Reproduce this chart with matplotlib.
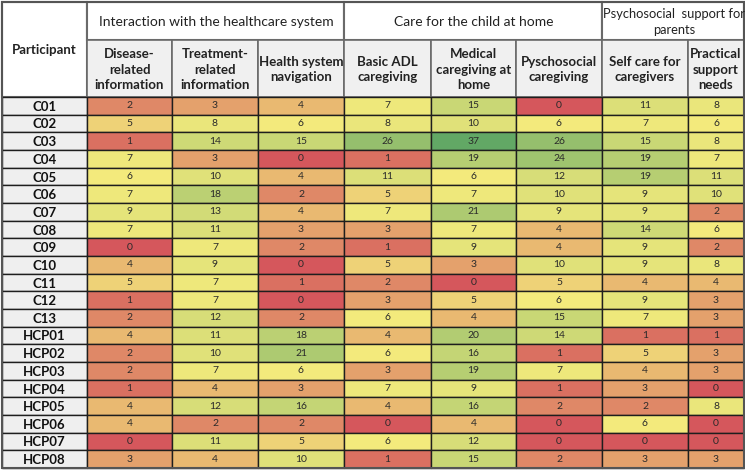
import numpy as np
import matplotlib.pyplot as plt
from matplotlib.patches import Rectangle
from matplotlib.colors import to_rgb

plt.rcParams['font.family'] = ['Lato', 'DejaVu Sans']

participants = ['C01', 'C02', 'C03', 'C04', 'C05', 'C06', 'C07', 'C08', 'C09', 'C10',
                'C11', 'C12', 'C13', 'HCP01', 'HCP02', 'HCP03', 'HCP04', 'HCP05',
                'HCP06', 'HCP07', 'HCP08']

groups = ['Interaction with the healthcare system', 'Care for the child at home',
          'Psychosocial  support for\nparents']
group_sizes = [3, 3, 2]

subheaders = ['Disease-\nrelated\ninformation', 'Treatment-\nrelated\ninformation',
              'Health system\nnavigation', 'Basic ADL\ncaregiving',
              'Medical\ncaregiving at\nhome', 'Pyschosocial\ncaregiving',
              'Self care for\ncaregivers', 'Practical\nsupport\nneeds']

disease_info = [2, 5, 1, 7, 6, 7, 9, 7, 0, 4, 5, 1, 2, 4, 2, 2, 1, 4, 4, 0, 3]
treatment_info = [3, 8, 14, 3, 10, 18, 13, 11, 7, 9, 7, 7, 12, 11, 10, 7, 4, 12, 2, 11, 4]
navigation = [4, 6, 15, 0, 4, 2, 4, 3, 2, 0, 1, 0, 2, 18, 21, 6, 3, 16, 2, 5, 10]
basic_adl = [7, 8, 26, 1, 11, 5, 7, 3, 1, 5, 2, 3, 6, 4, 6, 3, 7, 4, 0, 6, 1]
medical_care = [15, 10, 37, 19, 6, 7, 21, 7, 9, 3, 0, 5, 4, 20, 16, 19, 9, 16, 4, 12, 15]
psychosocial_care = [0, 6, 26, 24, 12, 10, 9, 4, 4, 10, 5, 6, 15, 14, 1, 7, 1, 2, 0, 0, 2]
self_care = [11, 7, 15, 19, 19, 9, 9, 14, 9, 9, 4, 9, 7, 1, 5, 4, 3, 2, 6, 0, 3]
practical_support = [8, 6, 8, 7, 11, 10, 2, 6, 2, 8, 4, 3, 3, 1, 3, 3, 0, 8, 0, 0, 3]

data = np.array([disease_info, treatment_info, navigation, basic_adl, medical_care,
                 psychosocial_care, self_care, practical_support]).T

# excel-style 3 colour scale: min red, median yellow, max green
c_lo = np.array(to_rgb('#d5575c'))
c_mid = np.array(to_rgb('#f3ea7c'))
c_hi = np.array(to_rgb('#62a865'))
vmin, vmid, vmax = data.min(), np.percentile(data, 50), data.max()

def cell_color(v):
    if v <= vmid:
        t = (v - vmin) / (vmid - vmin)
        return c_lo + (c_mid - c_lo) * t
    t = (v - vmid) / (vmax - vmid)
    return c_mid + (c_hi - c_mid) * t

# layout in pixels
x_edges = [2, 87, 172, 258, 344, 431, 516, 602, 688, 744]
y_top, y_grp, y_sub, y_bot = 2, 40, 97, 468
row_h = (y_bot - y_sub) / len(participants)

fig = plt.figure(figsize=(7.45, 4.71), dpi=100)
ax = fig.add_axes([0, 0, 1, 1])
ax.set_xlim(0, 745)
ax.set_ylim(471, 0)
ax.axis('off')

hdr_line = '#6a6a6a'
grid_line = '#1e1e1e'

# participant header
ax.add_patch(Rectangle((x_edges[0], y_top), x_edges[1] - x_edges[0], y_sub - y_top,
                       facecolor='white', edgecolor=hdr_line, lw=1.5))
ax.text((x_edges[0] + x_edges[1]) / 2, 50, 'Participant', ha='center', va='center',
        fontsize=9.5, fontweight='bold', color='#222222')

# group headers
col = 1
for g, n in zip(groups, group_sizes):
    x0, x1 = x_edges[col], x_edges[col + n]
    ax.add_patch(Rectangle((x0, y_top), x1 - x0, y_grp - y_top,
                           facecolor='white', edgecolor=hdr_line, lw=1.5))
    fs = 9.3 if '\n' in g else 10
    ax.text((x0 + x1) / 2 + 1, (y_top + y_grp) / 2 + 1, g, ha='center', va='center',
            fontsize=fs, color='#222222', linespacing=1.5)
    col += n

# sub headers
for j, s in enumerate(subheaders):
    x0, x1 = x_edges[j + 1], x_edges[j + 2]
    ax.add_patch(Rectangle((x0, y_grp), x1 - x0, y_sub - y_grp,
                           facecolor='#f0f0f0', edgecolor=hdr_line, lw=1.2))
    ax.text((x0 + x1) / 2, (y_grp + y_sub) / 2 + 1, s, ha='center', va='center',
            fontsize=9.5, fontweight='bold', color='#222222', linespacing=1.35)

# data rows
for i, p in enumerate(participants):
    y0 = y_sub + i * row_h
    ax.add_patch(Rectangle((x_edges[0], y0), x_edges[1] - x_edges[0], row_h,
                           facecolor='#efefef', edgecolor=grid_line, lw=1.0))
    ax.text((x_edges[0] + x_edges[1]) / 2, y0 + row_h / 2 + 1, p, ha='center',
            va='center', fontsize=9.5, fontweight='bold', color='#111111')
    for j in range(data.shape[1]):
        x0, x1 = x_edges[j + 1], x_edges[j + 2]
        v = data[i, j]
        ax.add_patch(Rectangle((x0, y0), x1 - x0, row_h, facecolor=cell_color(v),
                               edgecolor=grid_line, lw=1.0))
        ax.text((x0 + x1) / 2, y0 + row_h / 2, str(v), ha='center', va='center',
                fontsize=7.5, color='#2a2a2a')

# outer frame
ax.add_patch(Rectangle((x_edges[0], y_top), x_edges[-1] - x_edges[0], y_bot - y_top,
                       facecolor='none', edgecolor='#555555', lw=1.5))

fig.savefig('out.png', dpi=100)
